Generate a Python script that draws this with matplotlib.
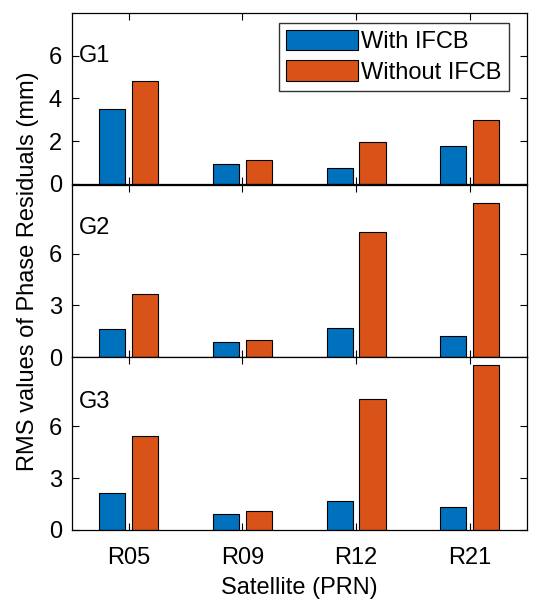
import matplotlib.pyplot as plt
import numpy as np

plt.rcParams['font.family'] = ['Liberation Sans', 'DejaVu Sans']

satellites = ['R05', 'R09', 'R12', 'R21']
groups = ['G1', 'G2', 'G3']
with_ifcb = [
    [3.50, 0.95, 0.77, 1.77],
    [1.63, 0.89, 1.70, 1.20],
    [2.15, 0.94, 1.69, 1.35],
]
without_ifcb = [
    [4.83, 1.11, 1.97, 2.99],
    [3.68, 0.99, 7.26, 8.96],
    [5.42, 1.08, 7.60, 9.52],
]
ylims = [8, 10, 10]
yticks = [[0, 2, 4, 6], [0, 3, 6], [0, 3, 6]]
label_y = [6.0, 7.5, 7.4]

blue = '#0072BD'
orange = '#D95319'
fs = 17

fig = plt.figure(figsize=(5.42, 6.01), dpi=100)
left, right = 71.7 / 542, 526.7 / 542
tops = [13, 185, 357]
bots = [184, 357, 530]

x = np.arange(1, len(satellites) + 1)
w = 0.23
off = 0.145
axes = []
for i in range(3):
    b = 1 - bots[i] / 601
    h = (bots[i] - tops[i]) / 601
    ax = fig.add_axes([left, b, right - left, h])
    axes.append(ax)
    ax.bar(x - off, with_ifcb[i], w, color=blue, edgecolor='black', linewidth=0.8,
           label='With IFCB', zorder=2)
    ax.bar(x + off, without_ifcb[i], w, color=orange, edgecolor='black', linewidth=0.8,
           label='Without IFCB', zorder=2)
    ax.set_xlim(0.5, 4.5)
    ax.set_ylim(0, ylims[i])
    ax.set_yticks(yticks[i])
    ax.set_xticks(x)
    ax.tick_params(direction='in', top=True, right=True, labelsize=fs, length=5,
                   width=0.8)
    ax.tick_params(axis='y', pad=7)
    ax.tick_params(axis='x', pad=12)
    for s in ax.spines.values():
        s.set_linewidth(0.9)
    if i < 2:
        ax.set_xticklabels([])
    else:
        ax.set_xticklabels(satellites)
    ax.text(0.562, label_y[i], groups[i], fontsize=fs, va='center', ha='left')

axes[0].legend(loc='upper right', bbox_to_anchor=(0.961, 0.943), fontsize=fs,
               frameon=True, fancybox=False, edgecolor='#333333', framealpha=1,
               handlelength=3.05, handleheight=0.95, handletextpad=0.15,
               borderpad=0.3, labelspacing=0.3, borderaxespad=0)
axes[2].set_xlabel('Satellite (PRN)', fontsize=fs, labelpad=6)
fig.text(0.052, (1 - 13 / 601 + 1 - 530 / 601) / 2, 'RMS values of Phase Residuals (mm)',
         rotation=90, fontsize=fs, va='center', ha='center')

plt.savefig('out.png', dpi=100)
